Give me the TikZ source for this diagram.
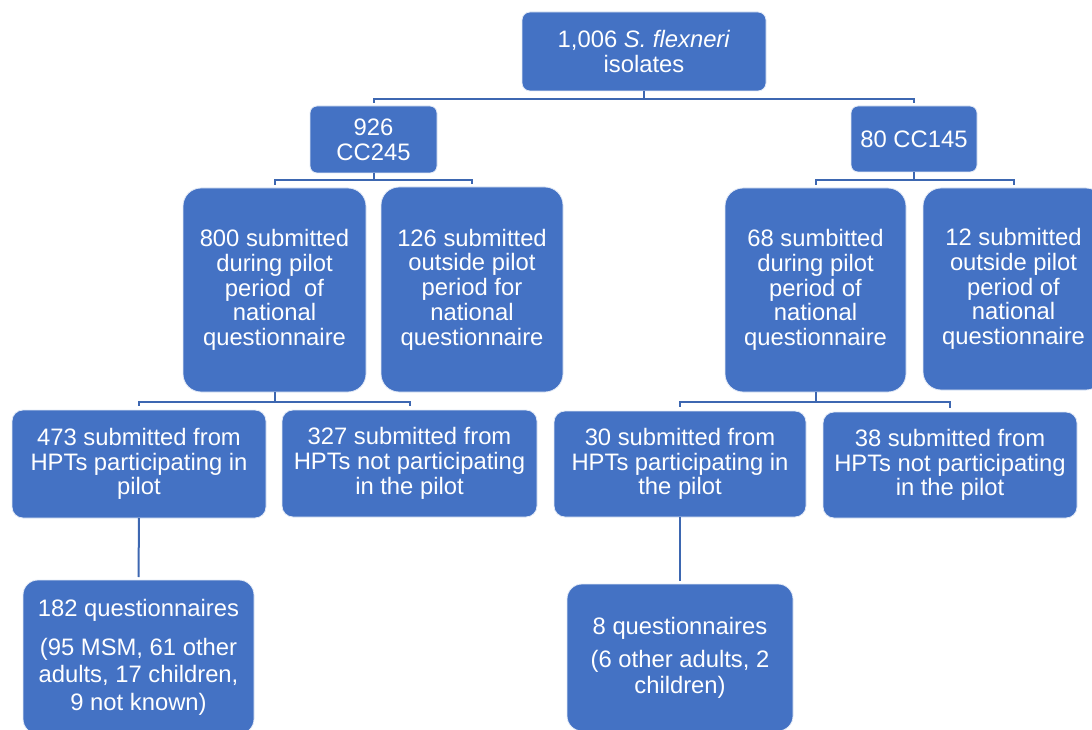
\documentclass[tikz,border=0pt]{standalone}
\usepackage{fontspec}
\setmainfont{Liberation Sans}
\definecolor{boxblue}{HTML}{4472C4}
\definecolor{linkblue}{HTML}{3D67B1}
\newcommand{\boxfont}{\fontsize{23.8}{24.8}\selectfont}
\tikzset{
  box/.style={fill=boxblue, draw=white!85!boxblue, line width=0.8pt, text=white,
    align=center, inner sep=0pt, outer sep=0pt, font=\boxfont},
  conn/.style={draw=linkblue, line width=2pt},
}
\begin{document}
\begin{tikzpicture}[x=1pt, y=-1pt]
\useasboundingbox (0,0) rectangle (1092,730);
\clip (0,0) rectangle (1092,730);

% top level
\node[box, rounded corners=8pt, minimum width=244pt, minimum height=79pt] (top) at (644,51.5)
  {1,006 \textit{S. flexneri}\\isolates};

% clonal complexes
\node[box, rounded corners=7pt, minimum width=127pt, minimum height=67pt] (c245) at (373.5,139.5)
  {926\\CC245};
\node[box, rounded corners=7pt, minimum width=126pt, minimum height=66pt] (c145) at (914,139)
  {80 CC145};

% submission period
\node[box, rounded corners=18pt, minimum width=183pt, minimum height=204pt] (n800) at (274.5,290)
  {800 submitted\\during pilot\\period\ \ of\\national\\questionnaire};
\node[box, rounded corners=18pt, minimum width=182pt, minimum height=205pt] (n126) at (472,289.5)
  {126 submitted\\outside pilot\\period for\\national\\questionnaire};
\node[box, rounded corners=18pt, minimum width=181pt, minimum height=204pt] (n68) at (815.5,290)
  {68 sumbitted\\during pilot\\period of\\national\\questionnaire};
\node[box, rounded corners=18pt, minimum width=181pt, minimum height=202pt] (n12) at (1013.5,289)
  {12 submitted\\outside pilot\\period of\\national\\questionnaire};

% participating HPTs
\node[box, rounded corners=11pt, minimum width=254pt, minimum height=108pt] (n473) at (139,464)
  {473 submitted from\\HPTs participating in\\pilot};
\node[box, rounded corners=11pt, minimum width=255pt, minimum height=107pt] (n327) at (409.5,463.5)
  {327 submitted from\\HPTs not participating\\in the pilot};
\node[box, rounded corners=11pt, minimum width=252pt, minimum height=106pt] (n30) at (680,464)
  {30 submitted from\\HPTs participating in\\the pilot};
\node[box, rounded corners=11pt, minimum width=254pt, minimum height=106pt] (n38) at (950,465)
  {38 submitted from\\HPTs not participating\\in the pilot};

% questionnaires
\node[box, rounded corners=15pt, minimum width=231pt, minimum height=154pt,
      font=\fontsize{23.8}{27.5}\selectfont] (n182) at (138.5,657)
  {182 questionnaires\\[11.5pt](95 MSM, 61 other\\adults, 17 children,\\9 not known)};
\node[box, rounded corners=15pt, minimum width=226pt, minimum height=147pt,
      font=\fontsize{23.8}{26}\selectfont] (n8) at (680,657.5)
  {8 questionnaires\\[7pt](6 other adults, 2\\children)};

% bus lines
\coordinate (b0) at (0,99);
\coordinate (b1) at (0,180);
\coordinate (b2) at (0,401.5);

\draw[conn] (top.south) -- (top.south |- b0) -| ([yshift=3pt]c245.north);
\draw[conn] (top.south |- b0) -| ([yshift=3pt]c145.north);

\draw[conn] (c245.south) -- (c245.south |- b1) -| ([yshift=3pt]n800.north);
\draw[conn] (c245.south |- b1) -| ([yshift=3pt]n126.north);
\draw[conn] (c145.south) -- (c145.south |- b1) -| ([yshift=3pt]n68.north);
\draw[conn] (c145.south |- b1) -| ([yshift=3pt]n12.north);

\draw[conn] (n800.south) -- (n800.south |- b2) -| ([yshift=4pt]n473.north);
\draw[conn] (n800.south |- b2) -| ([yshift=4pt]n327.north);
\draw[conn] (n68.south) -- (n68.south |- b2) -| ([yshift=4pt]n30.north);
\draw[conn] (n68.south |- b2) -| ([yshift=4pt]n38.north);

\draw[conn] (n473.south) -- ([yshift=3pt]n182.north);
\draw[conn] (n30.south) -- ([yshift=3pt]n8.north);
\end{tikzpicture}
\end{document}
